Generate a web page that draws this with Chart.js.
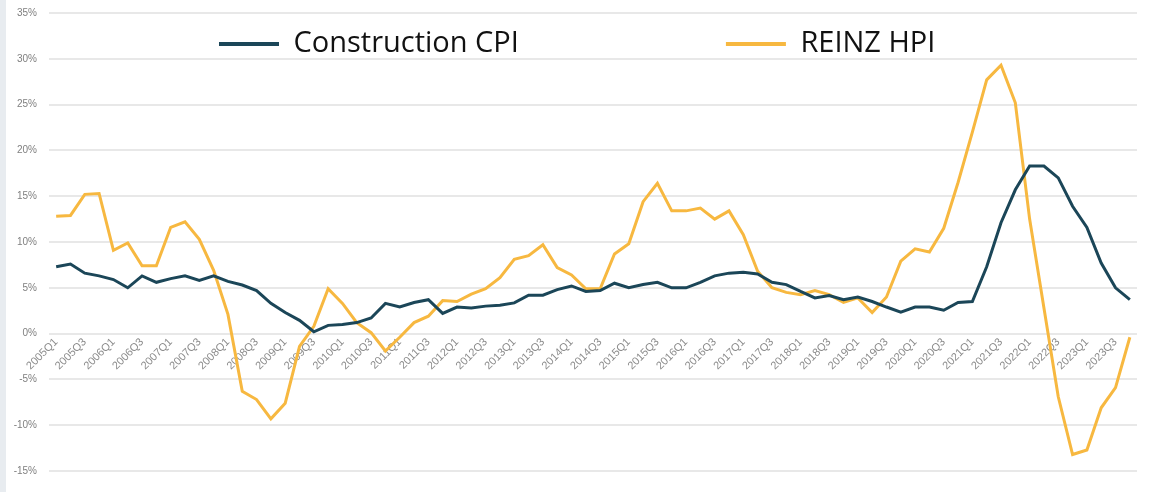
<!DOCTYPE html>
<html><head><meta charset="utf-8">
<script src="https://cdn.jsdelivr.net/npm/chart.js@4/dist/chart.umd.min.js"></script>
<style>
html,body{margin:0;padding:0;background:#fff;}
#wrap{position:relative;width:1152px;height:492px;overflow:hidden;}
#strip{position:absolute;left:0;top:0;width:6px;height:492px;background:#e8ecf0;}
canvas{position:absolute;left:0;top:0;}
</style></head><body>
<div id="wrap"><canvas id="c" width="1152" height="492"></canvas><div id="strip"></div></div>
<script>
const quarters = [
 '2005Q1','2005Q2','2005Q3','2005Q4','2006Q1','2006Q2','2006Q3','2006Q4',
 '2007Q1','2007Q2','2007Q3','2007Q4','2008Q1','2008Q2','2008Q3','2008Q4',
 '2009Q1','2009Q2','2009Q3','2009Q4','2010Q1','2010Q2','2010Q3','2010Q4',
 '2011Q1','2011Q2','2011Q3','2011Q4','2012Q1','2012Q2','2012Q3','2012Q4',
 '2013Q1','2013Q2','2013Q3','2013Q4','2014Q1','2014Q2','2014Q3','2014Q4',
 '2015Q1','2015Q2','2015Q3','2015Q4','2016Q1','2016Q2','2016Q3','2016Q4',
 '2017Q1','2017Q2','2017Q3','2017Q4','2018Q1','2018Q2','2018Q3','2018Q4',
 '2019Q1','2019Q2','2019Q3','2019Q4','2020Q1','2020Q2','2020Q3','2020Q4',
 '2021Q1','2021Q2','2021Q3','2021Q4','2022Q1','2022Q2','2022Q3','2022Q4',
 '2023Q1','2023Q2','2023Q3','2023Q4'
];
const constructionCPI = [
 7.3, 7.6, 6.6, 6.3, 5.9, 5.0, 6.3, 5.6,
 6.0, 6.3, 5.8, 6.3, 5.7, 5.3, 4.7, 3.3,
 2.3, 1.45, 0.2, 0.9, 1.0, 1.2, 1.7, 3.3,
 2.9, 3.4, 3.7, 2.2, 2.9, 2.8, 3.0, 3.1,
 3.35, 4.2, 4.2, 4.8, 5.2, 4.6, 4.7, 5.5,
 5.0, 5.35, 5.6, 5.0, 5.0, 5.6, 6.3, 6.6,
 6.7, 6.5, 5.6, 5.35, 4.6, 3.9, 4.15, 3.7,
 4.0, 3.5, 2.9, 2.35, 2.9, 2.9, 2.55, 3.4,
 3.5, 7.3, 12.1, 15.7, 18.3, 18.3, 17.0, 13.9,
 11.6, 7.7, 5.0, 3.7
];
const reinzHPI = [
 12.8, 12.9, 15.2, 15.3, 9.1, 9.9, 7.4, 7.4,
 11.6, 12.2, 10.3, 6.9, 2.1, -6.3, -7.2, -9.3,
 -7.6, -1.4, 0.8, 4.9, 3.3, 1.2, 0.1, -1.9,
 -0.4, 1.2, 1.9, 3.6, 3.5, 4.3, 4.9, 6.1,
 8.1, 8.5, 9.7, 7.2, 6.4, 4.9, 4.9, 8.7,
 9.8, 14.4, 16.4, 13.4, 13.4, 13.7, 12.5, 13.4,
 10.8, 6.8, 5.0, 4.5, 4.25, 4.7, 4.25, 3.4,
 3.9, 2.3, 4.0, 7.9, 9.25, 8.9, 11.5, 16.5,
 22.0, 27.7, 29.3, 25.2, 12.5, 2.8, -6.9, -13.2,
 -12.7, -8.1, -5.9, -0.4
];
const seriesNames = ['Construction CPI', 'REINZ HPI'];
const yMin = -15, yMax = 35, yStep = 5;

const LEG_PAD = 207;
const LEG_FONT = 29;
const legendPlace = {
  id: 'legendPlace',
  afterLayout(chart) {
    const lg = chart.legend;
    lg.left = 219 - LEG_PAD;
    lg.right = 1152;
    lg.top = 44 - LEG_FONT / 2 - LEG_PAD;
  }
};

new Chart(document.getElementById('c'), {
  type: 'line',
  data: {
    labels: quarters,
    datasets: [
      { label: seriesNames[0], data: constructionCPI, borderColor: '#1b4658', backgroundColor: '#1b4658',
        borderWidth: 3, pointRadius: 0, tension: 0 },
      { label: seriesNames[1], data: reinzHPI, borderColor: '#f7b840', backgroundColor: '#f7b840',
        borderWidth: 3, pointRadius: 0, tension: 0 }
    ]
  },
  options: {
    responsive: false,
    animation: false,
    layout: { padding: { left: 0, right: 15, top: 13, bottom: 21 } },
    plugins: {
      tooltip: { enabled: false },
      legend: {
        position: 'chartArea',
        align: 'start',
        labels: {
          padding: LEG_PAD,
          boxWidth: 60,
          boxHeight: 4,
          color: '#111111',
          font: { family: 'Open Sans', size: LEG_FONT },
          generateLabels(chart) {
            return chart.data.datasets.map((d, i) => ({
              text: d.label, fillStyle: d.borderColor, strokeStyle: d.borderColor,
              lineWidth: 0, hidden: false, datasetIndex: i, fontColor: '#111111'
            }));
          }
        }
      }
    },
    scales: {
      x: {
        type: 'category',
        position: { y: 0 },
        offset: true,
        grid: { display: false, drawTicks: false },
        border: { display: false },
        ticks: {
          autoSkip: false, minRotation: 45, maxRotation: 45, padding: 2,
          color: '#8c8c8c', font: { family: 'Liberation Sans', size: 11 },
          callback(v, i) { return i % 2 === 0 ? quarters[i] : null; }
        },
        afterFit(s) { s.height = 0; }
      },
      y: {
        min: yMin, max: yMax,
        ticks: { stepSize: yStep, padding: 12, color: '#7f7f7f',
          font: { family: 'Liberation Sans', size: 10 },
          callback: v => v + '%' },
        grid: { color: '#e8e8e8', lineWidth: 2, drawTicks: false },
        border: { display: false },
        afterFit(s) { s.width = 49; s.paddingTop = 0; s.paddingBottom = 0; }
      }
    }
  },
  plugins: [legendPlace]
});
</script>
</body></html>
